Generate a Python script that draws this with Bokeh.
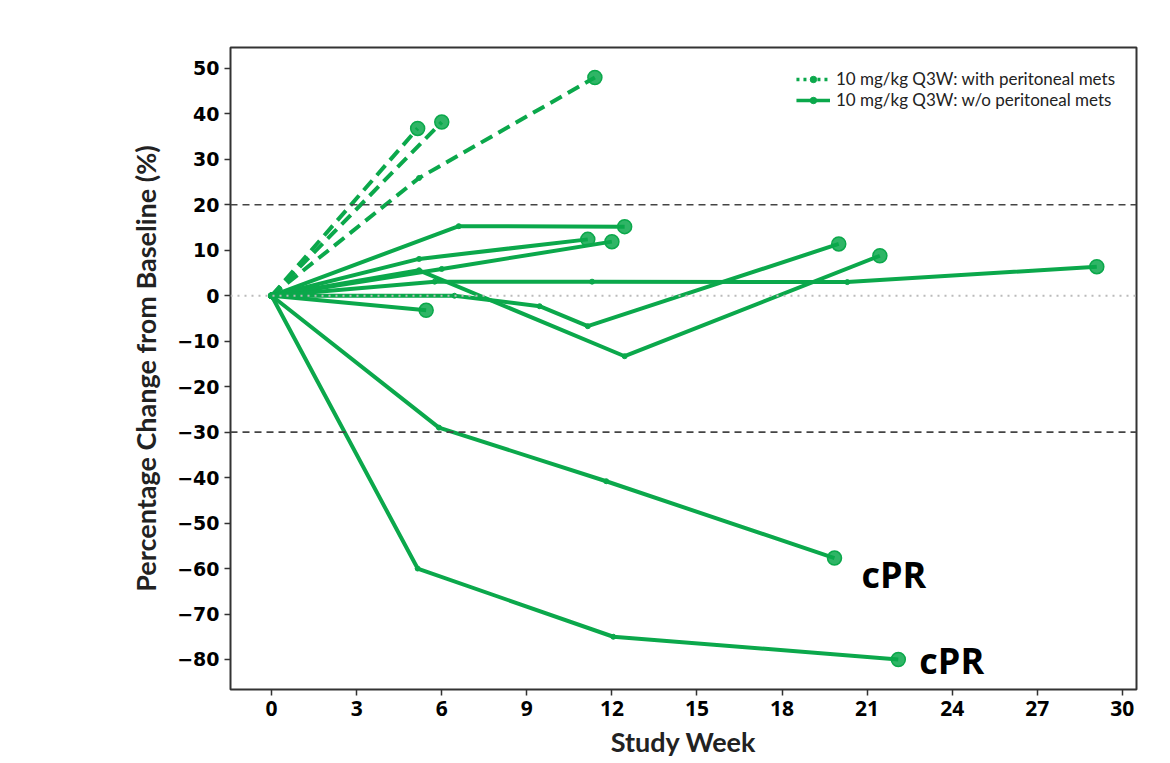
from bokeh.plotting import figure
from bokeh.models import Span, Legend, LegendItem, Label, FixedTicker
from bokeh.embed import file_html
from bokeh.resources import INLINE

GREEN = "#0BA84B"

# Patients with peritoneal metastases (dashed)
peri_weeks = [
    [0, 5.15],
    [0, 6.0],
    [0, 5.2, 11.4],
]
peri_values = [
    [0, 36.8],
    [0, 38.2],
    [0, 25.9, 48.0],
]

# Patients without peritoneal metastases (solid)
nonperi_weeks = [
    [0, 6.6, 12.45],
    [0, 5.2, 11.15],
    [0, 6.0, 12.0],
    [0, 5.2, 12.45, 21.45],
    [0, 6.45, 9.45, 11.15, 20.0],
    [0, 5.75, 11.3, 20.3, 29.1],
    [0, 5.45],
    [0, 5.9, 11.8, 19.85],
    [0, 5.15, 12.05, 22.1],
]
nonperi_values = [
    [0, 15.3, 15.2],
    [0, 8.1, 12.4],
    [0, 5.9, 11.9],
    [0, 5.6, -13.3, 8.8],
    [0, 0.0, -2.3, -6.7, 11.4],
    [0, 3.1, 3.1, 3.0, 6.4],
    [0, -3.2],
    [0, -29.0, -40.8, -57.7],
    [0, -60.0, -75.0, -80.0],
]

# cPR annotations: index of patient in non-peritoneal group
cpr_patients = [7, 8]
cpr_text = "cPR"

x_ticks = list(range(0, 31, 3))
y_ticks = list(range(-80, 51, 10))
ref_levels_dashed = [20, -30]
ref_level_zero = 0

legend_labels = ["10 mg/kg Q3W: with peritoneal mets", "10 mg/kg Q3W: w/o peritoneal mets"]

p = figure(width=1160, height=760, output_backend="svg", toolbar_location=None,
           x_range=(-1.45, 30.5), y_range=(-86.6, 54.6),
           min_border_left=230, min_border_top=47, min_border_right=24, min_border_bottom=69)

p.xgrid.grid_line_color = None
p.ygrid.grid_line_color = None
p.outline_line_color = "#333333"
p.outline_line_width = 2
p.background_fill_color = "white"
p.border_fill_color = "white"

for lv in ref_levels_dashed:
    p.add_layout(Span(location=lv, dimension="width", line_color="#444444",
                      line_width=1.6, line_dash="7 5"))
p.add_layout(Span(location=ref_level_zero, dimension="width", line_color="#bbbbbb",
                  line_width=2, line_dash="2 5"))

def draw(weeks, vals, dash):
    p.line(weeks, vals, line_color=GREEN, line_width=4, line_dash=dash)
    if len(weeks) > 2:
        p.scatter(weeks[1:-1], vals[1:-1], size=5, color=GREEN)
    p.scatter(weeks[:1], vals[:1], size=6, color=GREEN)
    p.scatter(weeks[-1:], vals[-1:], size=14, fill_color=GREEN, fill_alpha=0.85,
              line_color=GREEN, line_width=1.5)

for w, v in zip(peri_weeks, peri_values):
    draw(w, v, "13 7")
for w, v in zip(nonperi_weeks, nonperi_values):
    draw(w, v, "solid")

cpr_offsets = [(27, -16), (21, -1)]
for idx, (xo, yo) in zip(cpr_patients, cpr_offsets):
    p.add_layout(Label(x=nonperi_weeks[idx][-1], y=nonperi_values[idx][-1],
                       x_offset=xo, y_offset=yo, text=cpr_text,
                       text_font="Open Sans", text_font_style="bold",
                       text_font_size="36px", text_color="black",
                       text_baseline="middle", text_align="left"))

# legend proxies (no visible data)
nan = float("nan")
l1 = p.line([nan], [nan], line_color=GREEN, line_width=3.5, line_dash="3 4")
m1 = p.scatter([nan], [nan], size=10, color=GREEN)
l2 = p.line([nan], [nan], line_color=GREEN, line_width=3.5)
m2 = p.scatter([nan], [nan], size=10, color=GREEN)
legend = Legend(items=[LegendItem(label=legend_labels[0], renderers=[l1, m1]),
                       LegendItem(label=legend_labels[1], renderers=[l2, m2])],
                location="top_right", border_line_color=None, background_fill_alpha=0,
                label_text_font="Lato", label_text_font_size="17px",
                label_text_color="#222222", glyph_width=34, glyph_height=16,
                label_height=20, spacing=0, margin=21, padding=7, label_standoff=6)
p.add_layout(legend)

p.xaxis.ticker = FixedTicker(ticks=x_ticks)
p.yaxis.ticker = FixedTicker(ticks=y_ticks)
p.yaxis.major_label_overrides = {t: (str(t).replace("-", "\u2212")) for t in y_ticks}

for ax in (p.xaxis[0], p.yaxis[0]):
    ax.axis_line_color = None
    ax.major_tick_line_color = "#333333"
    ax.major_tick_line_width = 1.5
    ax.major_tick_out = 6
    ax.major_tick_in = 0
    ax.minor_tick_line_color = None
    ax.major_label_text_color = "black"
    ax.axis_label_text_color = "#222222"
    ax.axis_label_text_font = "Lato"
    ax.axis_label_text_font_style = "bold"
    ax.axis_label_text_font_size = "27px"

p.xaxis.axis_label = "Study Week"
p.yaxis.axis_label = "Percentage Change from Baseline (%)"
p.xaxis.major_label_text_font = "Open Sans"
p.xaxis.major_label_text_font_style = "bold"
p.xaxis.major_label_text_font_size = "21px"
p.xaxis.major_label_standoff = 5
p.xaxis.axis_label_standoff = 6
p.yaxis.major_label_text_font = "DejaVu Sans"
p.yaxis.major_label_text_font_style = "bold"
p.yaxis.major_label_text_font_size = "19px"
p.yaxis.major_label_standoff = 5
p.yaxis.axis_label_standoff = 12

open("out.html", "w").write(file_html(p, INLINE))
